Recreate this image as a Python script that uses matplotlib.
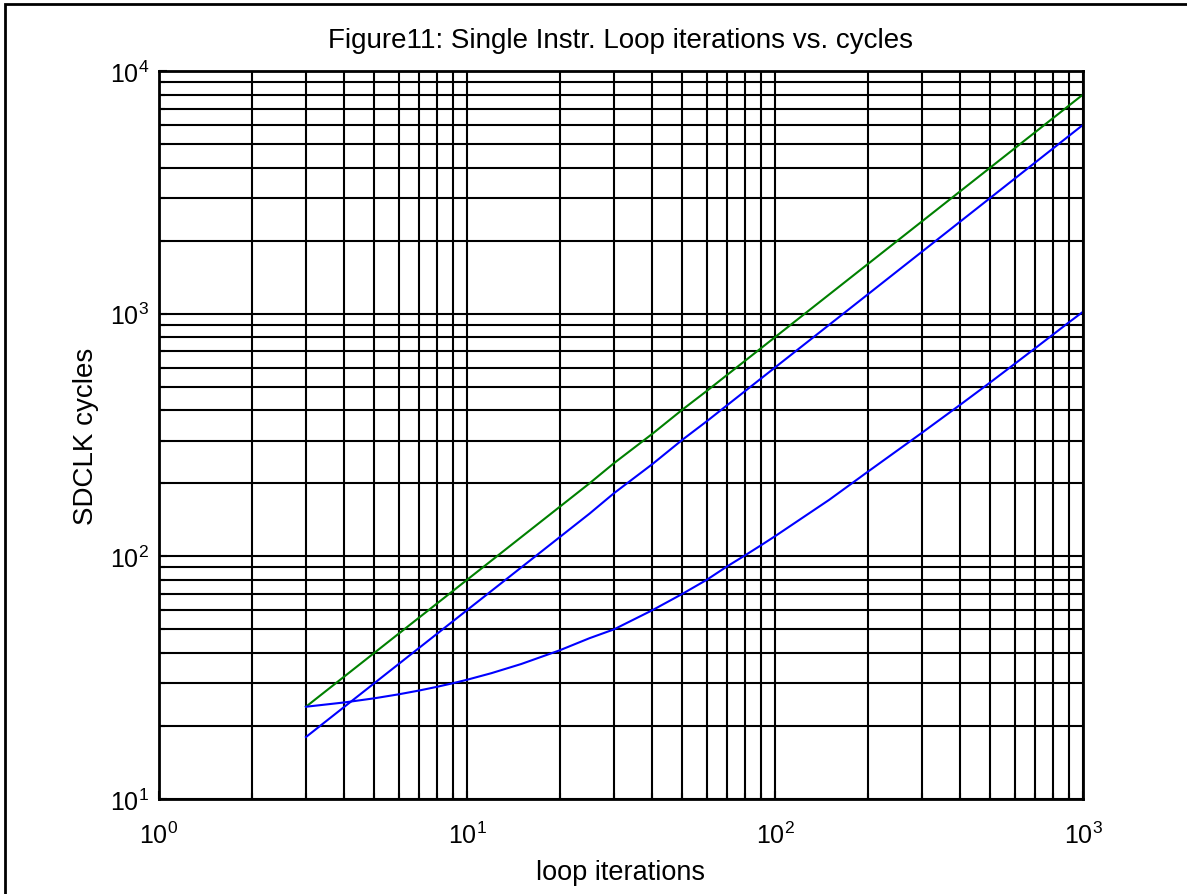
import matplotlib
matplotlib.use("Agg")
import matplotlib.pyplot as plt
from matplotlib.patches import Rectangle

# loop iterations (x) and cycle counts
iterations = [3, 4, 5, 6, 7, 8, 9, 10, 12, 15, 20, 25, 30, 40, 50, 60, 70, 80, 90,
              100, 150, 200, 300, 400, 500, 600, 700, 800, 900, 1000]
cycles_green = [24, 32, 40, 48, 56, 64, 72, 80, 96, 120, 160, 200, 242, 320, 402, 480,
                560, 640, 720, 800, 1200, 1600, 2400, 3200, 4000, 4800, 5600, 6400,
                7200, 8000]
cycles_blue_hi = [18, 24, 30, 36, 42, 48, 54, 60, 72, 90, 120, 150, 182, 240, 302, 360,
                  420, 480, 540, 600, 900, 1200, 1800, 2400, 3000, 3600, 4200, 4800,
                  5400, 6000]
cycles_blue_lo = [24, 25, 26, 27, 28, 29, 30, 31, 33, 36, 41, 46, 50, 60, 70, 80, 91,
                  101, 111, 121, 171, 223, 323, 422, 521, 621, 721, 821, 921, 1018]

xticks = [1, 10, 100, 1000]
xtick_labels = [r'$\mathregular{10^{%d}}$' % i for i in range(4)]
yticks = [10, 100, 1000, 10000]
ytick_labels = [r'$\mathregular{10^{%d}}$' % i for i in range(1, 5)]

plt.rcParams['font.family'] = ['Liberation Sans', 'DejaVu Sans']
plt.rcParams['mathtext.fontset'] = 'custom'
plt.rcParams['mathtext.rm'] = 'Liberation Sans'

fig = plt.figure(figsize=(11.87, 8.95), dpi=100)
ax = fig.add_axes([159 / 1187, 1 - 800 / 895, (1083 - 159) / 1187, (800 - 72) / 895])

ax.plot(iterations, cycles_green, color='#008000', lw=1.5)
ax.plot(iterations, cycles_blue_hi, color='#0000ff', lw=1.5)
ax.plot(iterations, cycles_blue_lo, color='#0000ff', lw=1.5)

ax.set_xscale('log')
ax.set_yscale('log')
ax.set_xlim(1, 1000)
ax.set_ylim(10, 10000)
ax.set_xticks(xticks)
ax.set_xticklabels(xtick_labels)
ax.set_yticks(yticks)
ax.set_yticklabels(ytick_labels)

ax.grid(True, which='both', color='black', lw=1.5, ls='-')
ax.set_axisbelow(True)
ax.tick_params(which='both', direction='in', labelsize=18, color='black', width=1.5)
ax.tick_params(which='major', length=6)
ax.tick_params(axis='x', which='major', pad=16)
ax.tick_params(axis='y', which='major', pad=7)
ax.tick_params(which='minor', length=4)
for s in ax.spines.values():
    s.set_linewidth(2)

ax.set_title('Figure11: Single Instr. Loop iterations vs. cycles', fontsize=20, pad=17)
ax.set_xlabel('loop iterations', fontsize=19.5, labelpad=8)
ax.set_ylabel('SDCLK cycles', fontsize=20, labelpad=8)

# outer frame of the figure window
fig.patches.append(Rectangle((5 / 1187, -0.05), 1.1, 1.05 - 5 / 895, transform=fig.transFigure,
                             fill=False, edgecolor='black', lw=2))

fig.savefig('out.png', dpi=100)
